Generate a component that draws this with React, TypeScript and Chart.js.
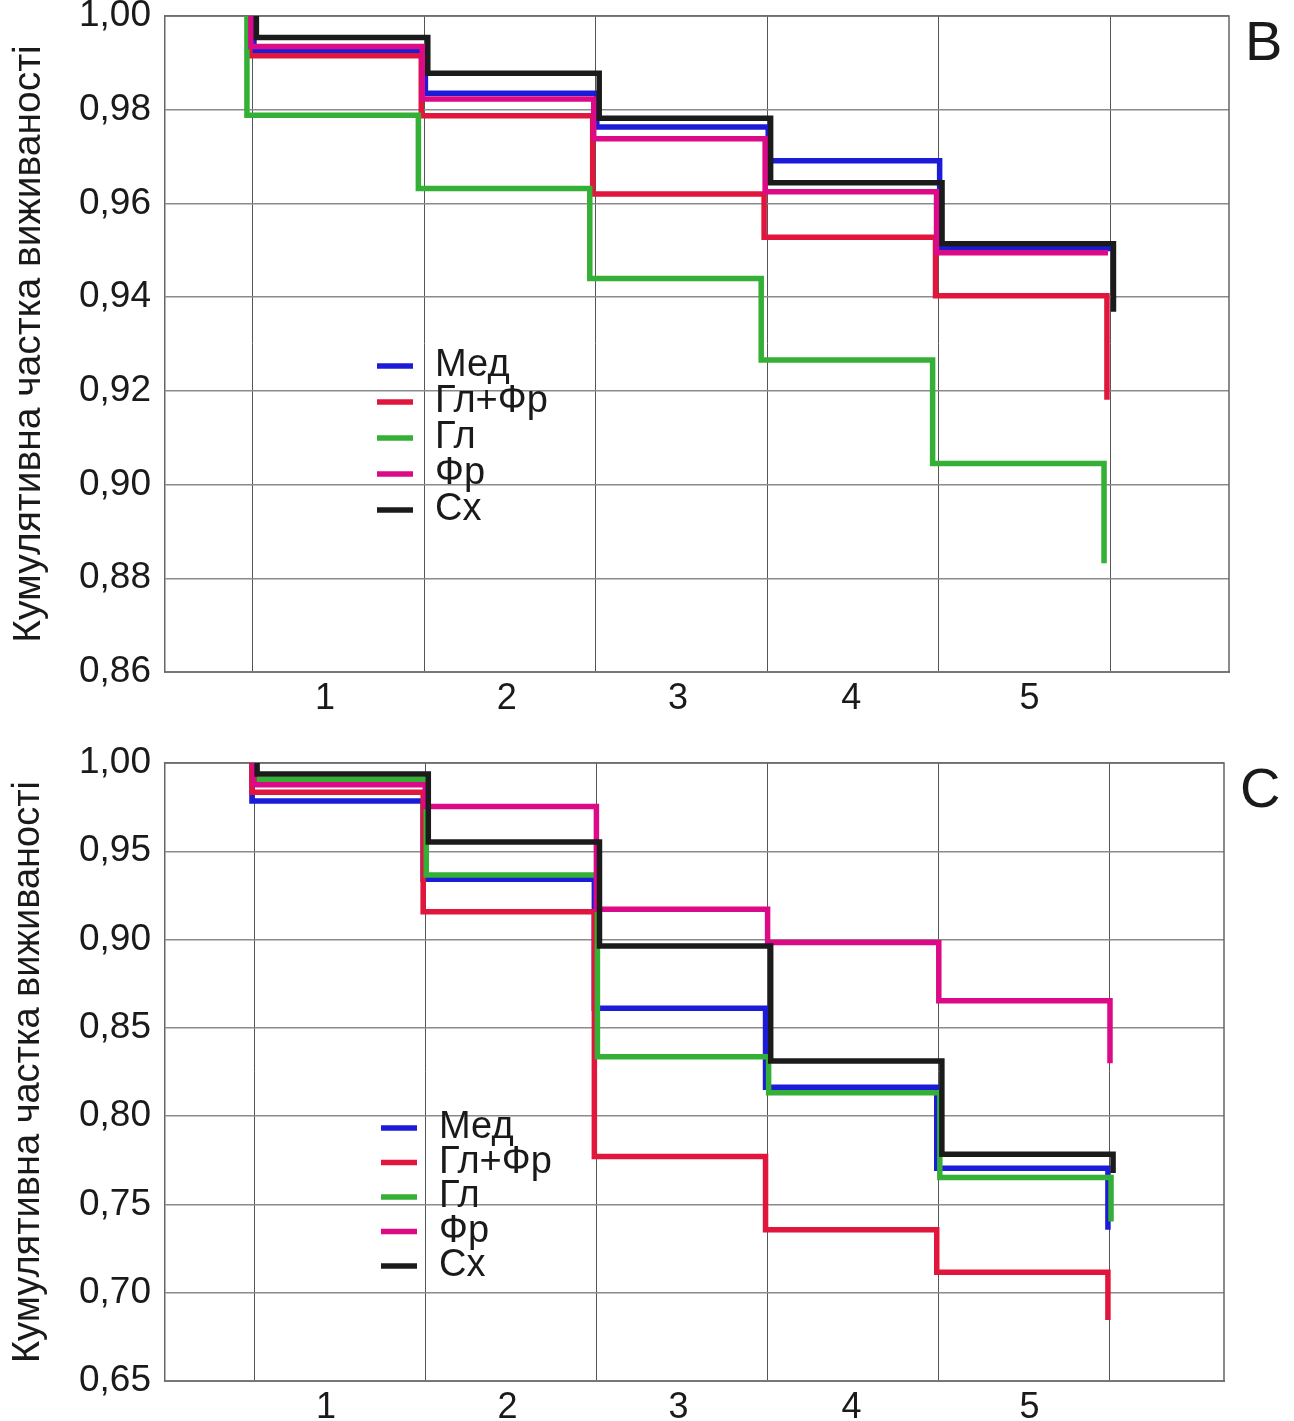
import { useEffect, useRef } from 'react';
import { Chart, registerables } from 'chart.js';

Chart.register(...registerables);

const FONT = "'Liberation Sans', Arial, 'DejaVu Sans', sans-serif";

// Legend order and colours
const seriesNames = ['Мед', 'Гл+Фр', 'Гл', 'Фр', 'Сх'];
const seriesColors = ['#1c1cd8', '#e0163c', '#33b035', '#dc0a86', '#1b1b1b'];

// Time points (gridlines) at which survival drops
const eventTimes = [0, 1, 2, 3, 4, 5];
const startSurvival = 1;
// Period labels sit between the gridlines
const xTickLabels = ['1', '2', '3', '4', '5'];
const xTickLabelAt = [0.42, 1.48, 2.48, 3.49, 4.53];
const yTitle = 'Кумулятивна частка виживаності';

// Panel B: cumulative survival after each time point
const survivalB_Med = [0.9926, 0.9835, 0.9763, 0.9691, 0.9504, 0.9504];
const survivalB_GlFr = [0.9915, 0.9787, 0.962, 0.9528, 0.9403, 0.9181];
const survivalB_Gl = [0.9788, 0.9632, 0.944, 0.9266, 0.9045, 0.8832];
const survivalB_Fr = [0.9935, 0.9823, 0.9738, 0.9625, 0.9495, 0.9495];
const survivalB_Sx = [0.9954, 0.9878, 0.9782, 0.9644, 0.9514, 0.9369];

// Panel C: cumulative survival after each time point
const survivalC_Med = [0.9785, 0.9341, 0.8611, 0.8164, 0.7705, 0.7356];
const survivalC_GlFr = [0.9834, 0.9158, 0.7771, 0.7356, 0.7116, 0.6846];
const survivalC_Gl = [0.9908, 0.9366, 0.8337, 0.8133, 0.7652, 0.7403];
const survivalC_Fr = [0.9877, 0.9753, 0.9172, 0.8983, 0.8654, 0.83];
const survivalC_Sx = [0.9938, 0.9553, 0.8964, 0.8313, 0.7784, 0.7678];

type PanelProps = {
  top: number;
  height: number;
  areaTop: number;
  areaRight: number;
  axisHeight: number;
  yMin: number;
  yMax: number;
  yStep: number;
  xMin: number;
  xMax: number;
  series: number[][];
  dodge: number[];
  legendX: number;
  legendY: number;
  legendGap: number;
  letter: string;
  titleSize: number;
};

function PanelChart(p: PanelProps) {
  const ref = useRef<HTMLCanvasElement>(null);

  useEffect(() => {
    if (!ref.current) return;

    // Each curve: start at 1 on the first time point, then one drop per time point
    const datasets = p.series.map((s, i) => ({
      label: seriesNames[i],
      data: [
        { x: eventTimes[0] + p.dodge[i], y: startSurvival },
        ...eventTimes.map((t, k) => ({ x: t + p.dodge[i], y: s[k] })),
      ],
      borderColor: seriesColors[i],
      backgroundColor: seriesColors[i],
      borderWidth: 5.5,
      pointRadius: 0,
      fill: false,
      stepped: 'before' as const,
      borderCapStyle: 'butt' as const,
      borderJoinStyle: 'miter' as const,
      order: seriesNames.length - 1 - i,
    }));

    const framePlugin = {
      id: 'frame',
      beforeDatasetsDraw(chart: any) {
        const { ctx, chartArea: a } = chart;
        ctx.save();
        ctx.strokeStyle = '#666';
        ctx.lineWidth = 1.5;
        ctx.beginPath();
        ctx.moveTo(a.left, a.top);
        ctx.lineTo(a.right, a.top);
        ctx.lineTo(a.right, a.bottom);
        ctx.stroke();
        ctx.restore();
      },
    };

    const legendPlugin = {
      id: 'stepLegend',
      afterDraw(chart: any) {
        const { ctx } = chart;
        ctx.save();
        chart.data.datasets.forEach((ds: any, i: number) => {
          const y = p.legendY + i * p.legendGap;
          ctx.strokeStyle = ds.borderColor;
          ctx.lineWidth = 5.5;
          ctx.beginPath();
          ctx.moveTo(p.legendX, y);
          ctx.lineTo(p.legendX + 36, y);
          ctx.stroke();
          ctx.fillStyle = '#1a1a1a';
          ctx.font = `38px ${FONT}`;
          ctx.textAlign = 'left';
          ctx.textBaseline = 'middle';
          ctx.fillText(ds.label, p.legendX + 58, y);
        });
        // panel letter
        const a = chart.chartArea;
        ctx.font = `56px ${FONT}`;
        ctx.textBaseline = 'alphabetic';
        ctx.fillStyle = '#1a1a1a';
        ctx.fillText(p.letter, a.right + 16, a.top + 44);
        ctx.restore();
      },
    };

    const xTickValues = [...eventTimes, ...xTickLabelAt].sort((a, b) => a - b);

    const chart = new Chart(ref.current, {
      type: 'line',
      data: { datasets },
      plugins: [framePlugin, legendPlugin],
      options: {
        responsive: false,
        animation: false,
        devicePixelRatio: 1,
        layout: { padding: { top: p.areaTop, right: 1294 - p.areaRight, left: 0, bottom: 0 } },
        plugins: { legend: { display: false }, tooltip: { enabled: false } },
        scales: {
          x: {
            type: 'linear',
            min: p.xMin,
            max: p.xMax,
            afterBuildTicks: (s: any) => {
              s.ticks = xTickValues.map((v) => ({ value: v }));
            },
            afterFit: (s: any) => {
              s.height = p.axisHeight;
              s.paddingLeft = 0;
              s.paddingRight = 0;
            },
            ticks: {
              autoSkip: false,
              maxRotation: 0,
              padding: 5,
              color: '#1a1a1a',
              font: { family: FONT, size: 36 },
              callback: (v: any) => {
                const k = xTickLabelAt.indexOf(Number(v));
                return k >= 0 ? xTickLabels[k] : '';
              },
            },
            grid: {
              drawTicks: false,
              lineWidth: 1,
              color: (c: any) =>
                c.tick && eventTimes.includes(c.tick.value) ? '#555' : 'rgba(0,0,0,0)',
            },
            border: { color: '#777', width: 2 },
          },
          y: {
            type: 'linear',
            min: p.yMin,
            max: p.yMax,
            afterFit: (s: any) => {
              s.width = 165;
              s.paddingTop = 0;
              s.paddingBottom = 0;
            },
            ticks: {
              stepSize: p.yStep,
              padding: 14,
              color: '#1a1a1a',
              font: { family: FONT, size: 37 },
              callback: (v: any) => Number(v).toFixed(2).replace('.', ','),
            },
            grid: { drawTicks: false, color: '#8a8a8a', lineWidth: 1.5 },
            border: { color: '#666', width: 1.5 },
            title: {
              display: true,
              text: yTitle,
              color: '#1a1a1a',
              font: { family: FONT, size: p.titleSize },
              padding: { top: 6, bottom: 0 },
            },
          },
        },
      },
    } as any);

    return () => chart.destroy();
  }, []);

  return (
    <canvas
      ref={ref}
      width={1294}
      height={p.height}
      style={{ position: 'absolute', left: 0, top: p.top, width: 1294, height: p.height }}
    />
  );
}

export default function App() {
  return (
    <div
      style={{
        position: 'absolute',
        left: 0,
        top: 0,
        width: 1294,
        height: 1421,
        background: '#fff',
        overflow: 'hidden',
      }}
    >
      <PanelChart
        top={0}
        height={725}
        areaTop={16}
        areaRight={1229}
        axisHeight={53}
        yMin={0.86}
        yMax={1.0}
        yStep={0.02}
        xMin={-0.513}
        xMax={5.694}
        series={[survivalB_Med, survivalB_GlFr, survivalB_Gl, survivalB_Fr, survivalB_Sx]}
        dodge={[0.006, -0.018, -0.035, -0.012, 0.02]}
        legendX={377}
        legendY={366}
        legendGap={36}
        letter="B"
        titleSize={39}
      />
      <PanelChart
        top={725}
        height={696}
        areaTop={38}
        areaRight={1224}
        axisHeight={40}
        yMin={0.65}
        yMax={1.0}
        yStep={0.05}
        xMin={-0.52}
        xMax={5.666}
        series={[survivalC_Med, survivalC_GlFr, survivalC_Gl, survivalC_Fr, survivalC_Sx]}
        dodge={[-0.012, -0.012, 0.006, 0, 0.018]}
        legendX={381}
        legendY={403}
        legendGap={34.5}
        letter="C"
        titleSize={38}
      />
    </div>
  );
}
